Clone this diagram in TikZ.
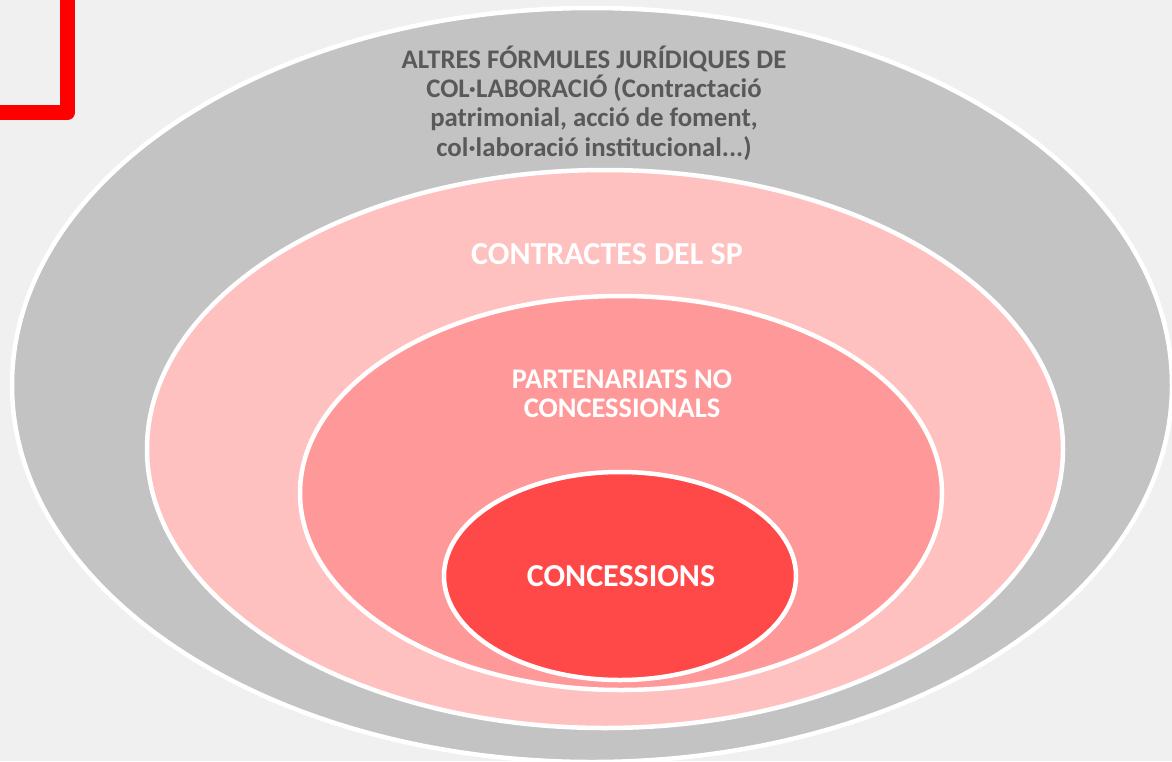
\documentclass[tikz,border=0pt]{standalone}
\usepackage{fontspec}
\setmainfont{Carlito}
\usepackage{xcolor}
\usepackage{tikz}
\usetikzlibrary{positioning}
\definecolor{ovBack}{HTML}{F0F0F0}
\definecolor{ovRed}{HTML}{FF0000}
\definecolor{ovGray}{HTML}{C3C3C3}
\definecolor{ovPink}{HTML}{FFC0C0}
\definecolor{ovRose}{HTML}{FF9999}
\definecolor{ovCore}{HTML}{FF4848}
\definecolor{ovInk}{HTML}{595959}
\tikzset{
  ov ring/.style={draw=white, line width=4.5pt},
  ov label/.style={font=\bfseries, align=center, inner sep=0pt},
  ov dark/.style={ov label, text=ovInk},
  ov light/.style={ov label, text=white}
}
\begin{document}
\begin{tikzpicture}[x=1pt, y=-1pt]
\useasboundingbox[fill=ovBack] (0,0) rectangle (1172,761);
% corner mark
\draw[ovRed, line width=15pt, line join=round] (67.5,0) -- (67.5,112.5) -- (0,112.5);
% nested ellipses
\draw[ov ring, fill=ovGray] (592,385) ellipse [x radius=580, y radius=377];
\draw[ov ring, fill=ovPink] (605,449) ellipse [x radius=458, y radius=279];
\draw[ov ring, fill=ovRose] (621,493) ellipse [x radius=321, y radius=197];
\draw[ov ring, fill=ovCore] (620,576) ellipse [x radius=176, y radius=104];
% labels
\node[ov dark, font=\bfseries\fontsize{26.8}{29.2}\selectfont] (altres) at (594,103)
  {ALTRES FÓRMULES JURÍDIQUES DE\\COL·LABORACIÓ (Contractació\\patrimonial, acció de foment,\\col·laboració institucional...)};
\node[ov light, font=\bfseries\fontsize{32}{34}\selectfont] (contractes) at (607,254) {CONTRACTES DEL SP};
\node[ov light, font=\bfseries\fontsize{28.4}{28.5}\selectfont] (partenariats) at (622,394)
  {PARTENARIATS NO\\CONCESSIONALS};
\node[ov light, font=\bfseries\fontsize{32}{34}\selectfont] (concessions) at (621,576) {CONCESSIONS};
\end{tikzpicture}
\end{document}
